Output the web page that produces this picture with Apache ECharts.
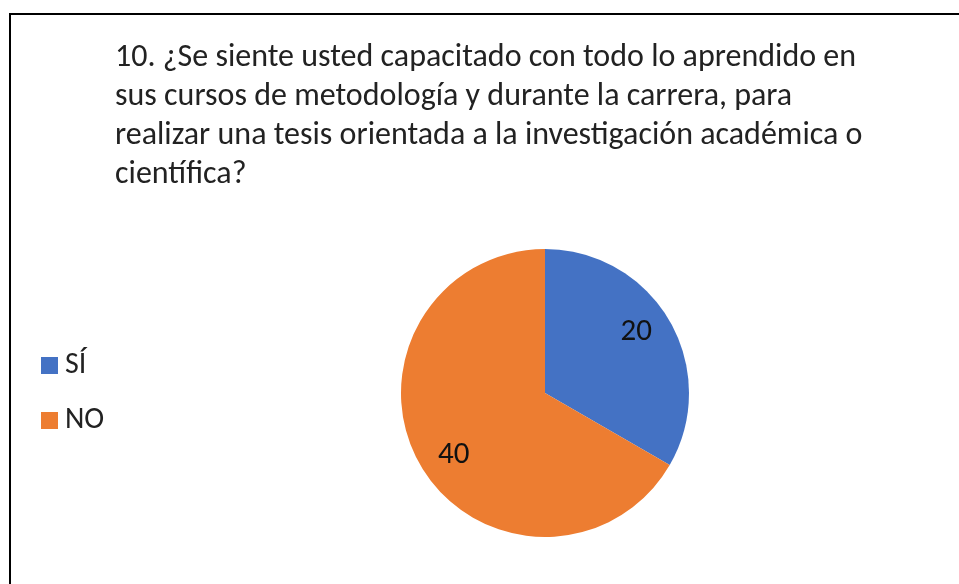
<!DOCTYPE html>
<html>
<head>
<meta charset="utf-8">
<script src="https://cdn.jsdelivr.net/npm/echarts@6/dist/echarts.min.js"></script>
<style>
  html, body { margin: 0; padding: 0; background: #fff; }
  #chart { width: 959px; height: 584px; }
</style>
</head>
<body>
<div id="chart"></div>
<script>
// datos de la pregunta 10
const titleLines = [
  '10. ¿Se siente usted capacitado con todo lo aprendido en',
  'sus cursos de metodología y durante la carrera, para',
  'realizar una tesis orientada a la investigación académica o',
  'científica?'
]
const categories = ['SÍ', 'NO']
const values = [20, 40]
const colors = ['#4472C4', '#ED7D31']

const fontFamily = 'Carlito, "Noto Sans", sans-serif'
const pieData = categories.map((name, i) => ({ name, value: values[i] }))

const chart = echarts.init(document.getElementById('chart'))

chart.setOption({
  animation: false,
  color: colors,
  title: {
    text: titleLines.join('\n'),
    left: 110,
    top: 33,
    textStyle: {
      fontFamily,
      fontSize: 32,
      fontWeight: 'normal',
      color: '#222',
      lineHeight: 39
    }
  },
  legend: {
    orient: 'vertical',
    left: 36,
    top: 345,
    itemWidth: 17,
    itemHeight: 17,
    itemGap: 24,
    icon: 'rect',
    data: categories,
    textStyle: {
      fontFamily,
      fontSize: 30,
      lineHeight: 31,
      color: '#222',
      padding: [0, 0, 0, 2]
    }
  },
  graphic: [{
    type: 'rect',
    shape: { x: 10, y: 14, width: 1000, height: 1000 },
    style: { fill: 'none', stroke: '#000', lineWidth: 2 },
    silent: true
  }],
  series: [
    {
      type: 'pie',
      center: [545, 393],
      radius: [0, 144],
      startAngle: 90,
      label: { show: false },
      labelLine: { show: false },
      data: pieData
    },
    {
      // capa transparente solo para colocar las etiquetas de valor
      type: 'pie',
      center: [545, 394],
      radius: [70, 144],
      startAngle: 94,
      silent: true,
      itemStyle: { color: 'rgba(0,0,0,0)' },
      label: {
        show: true,
        position: 'inside',
        formatter: '{c}',
        fontFamily,
        fontSize: 31,
        color: '#111'
      },
      labelLine: { show: false },
      data: pieData
    }
  ]
})
</script>
</body>
</html>
